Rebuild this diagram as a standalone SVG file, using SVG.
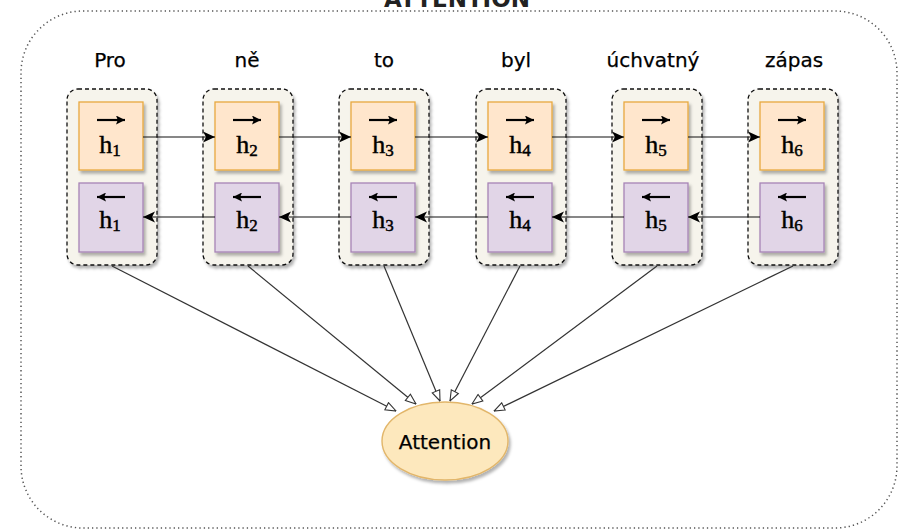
<svg xmlns="http://www.w3.org/2000/svg" width="899" height="531" viewBox="0 0 899 531">
  <style>
    .frame { fill: none; stroke: #555; stroke-width: 1.5; stroke-dasharray: 1.3 3; }
    .title { font-family: "DejaVu Sans", Verdana, sans-serif; font-weight: bold; font-size: 23px; fill: #222; text-anchor: middle; }
    .word { font-family: "DejaVu Sans", Verdana, sans-serif; font-size: 20px; fill: #000; stroke: #000; stroke-width: 0.25; text-anchor: middle; }
    .cell { fill: #f6f4ec; stroke: #111; stroke-width: 1.3; stroke-dasharray: 4 3; }
    .fwd { fill: #ffe6cc; stroke: #e8a93e; stroke-width: 1.3; }
    .bwd { fill: #e1d5e7; stroke: #a784b6; stroke-width: 1.3; }
    .h { font-family: "Liberation Serif", "Times New Roman", serif; font-size: 26px; fill: #000; stroke: #000; stroke-width: 0.45; text-anchor: middle; }
    .sub { font-size: 17px; }
    .vec { stroke: #000; stroke-width: 2.2; fill: none; }
    .link { stroke: #111; stroke-width: 1.2; fill: none; }
    .feed { stroke: #333; stroke-width: 1.2; fill: none; marker-end: url(#open); }
    .att { fill: #fde8bd; stroke: #e2b66a; stroke-width: 1.4; }
    .attText { font-family: "DejaVu Sans", Verdana, sans-serif; font-size: 20px; fill: #000; stroke: #000; stroke-width: 0.25; text-anchor: middle; }
  </style>
  <defs>
    <filter id="shadow" x="-20%" y="-20%" width="140%" height="140%">
      <feDropShadow dx="2" dy="3" stdDeviation="1.5" flood-color="#000" flood-opacity="0.3"/>
    </filter>
    <marker id="solid" viewBox="0 0 10 10" refX="10" refY="5" markerWidth="12" markerHeight="12" markerUnits="userSpaceOnUse" orient="auto">
      <path d="M0,0.5 L10,5 L0,9.5 L2.5,5 Z" fill="#000"/>
    </marker>
    <marker id="tip" viewBox="0 0 10 10" refX="10" refY="5" markerWidth="9" markerHeight="9" markerUnits="userSpaceOnUse" orient="auto">
      <path d="M0,0 L10,5 L0,10 L2,5 Z" fill="#000"/>
    </marker>
    <marker id="open" viewBox="0 0 12 10" refX="11.5" refY="5" markerWidth="12" markerHeight="10" markerUnits="userSpaceOnUse" orient="auto">
      <path d="M1,1 L11.5,5 L1,9 Z" fill="#fff" stroke="#333" stroke-width="1.1"/>
    </marker>
  </defs>

  <!-- outer boundary and heading -->
  <text class="title" x="457" y="7">ATTENTION</text>
  <rect class="frame" x="21" y="11" width="876" height="517" rx="62" ry="62"/>

  <!-- words -->
  <g id="words">
    <text class="word" x="110" y="67">Pro</text>
    <text class="word" x="247" y="67">ně</text>
    <text class="word" x="384" y="67">to</text>
    <text class="word" x="516" y="67">byl</text>
    <text class="word" x="653" y="67">úchvatný</text>
    <text class="word" x="794" y="67">zápas</text>
  </g>

  <!-- step 1 -->
  <g id="step1">
    <rect class="cell" x="67" y="89" width="90" height="176" rx="11" filter="url(#shadow)"/>
    <rect class="fwd" x="79" y="102" width="64" height="68" filter="url(#shadow)"/>
    <rect class="bwd" x="79" y="183" width="64" height="69" filter="url(#shadow)"/>
    <path class="vec" d="M97,120 H125" marker-end="url(#tip)"/>
    <text class="h" x="110" y="153">h<tspan class="sub" dy="3">1</tspan></text>
    <path class="vec" d="M125,197 H97" marker-end="url(#tip)"/>
    <text class="h" x="110" y="228">h<tspan class="sub" dy="3">1</tspan></text>
  </g>

  <!-- step 2 -->
  <g id="step2">
    <rect class="cell" x="203" y="89" width="90" height="176" rx="11" filter="url(#shadow)"/>
    <rect class="fwd" x="215" y="102" width="64" height="68" filter="url(#shadow)"/>
    <rect class="bwd" x="215" y="183" width="64" height="69" filter="url(#shadow)"/>
    <path class="vec" d="M233,120 H261" marker-end="url(#tip)"/>
    <text class="h" x="247" y="153">h<tspan class="sub" dy="3">2</tspan></text>
    <path class="vec" d="M261,197 H233" marker-end="url(#tip)"/>
    <text class="h" x="247" y="228">h<tspan class="sub" dy="3">2</tspan></text>
  </g>

  <!-- step 3 -->
  <g id="step3">
    <rect class="cell" x="339" y="89" width="90" height="176" rx="11" filter="url(#shadow)"/>
    <rect class="fwd" x="351" y="102" width="64" height="68" filter="url(#shadow)"/>
    <rect class="bwd" x="351" y="183" width="64" height="69" filter="url(#shadow)"/>
    <path class="vec" d="M369,120 H397" marker-end="url(#tip)"/>
    <text class="h" x="383" y="153">h<tspan class="sub" dy="3">3</tspan></text>
    <path class="vec" d="M397,197 H369" marker-end="url(#tip)"/>
    <text class="h" x="383" y="228">h<tspan class="sub" dy="3">3</tspan></text>
  </g>

  <!-- step 4 -->
  <g id="step4">
    <rect class="cell" x="476" y="89" width="90" height="176" rx="11" filter="url(#shadow)"/>
    <rect class="fwd" x="488" y="102" width="64" height="68" filter="url(#shadow)"/>
    <rect class="bwd" x="488" y="183" width="64" height="69" filter="url(#shadow)"/>
    <path class="vec" d="M506,120 H534" marker-end="url(#tip)"/>
    <text class="h" x="520" y="153">h<tspan class="sub" dy="3">4</tspan></text>
    <path class="vec" d="M534,197 H506" marker-end="url(#tip)"/>
    <text class="h" x="520" y="228">h<tspan class="sub" dy="3">4</tspan></text>
  </g>

  <!-- step 5 -->
  <g id="step5">
    <rect class="cell" x="612" y="89" width="90" height="176" rx="11" filter="url(#shadow)"/>
    <rect class="fwd" x="624" y="102" width="64" height="68" filter="url(#shadow)"/>
    <rect class="bwd" x="624" y="183" width="64" height="69" filter="url(#shadow)"/>
    <path class="vec" d="M642,120 H670" marker-end="url(#tip)"/>
    <text class="h" x="656" y="153">h<tspan class="sub" dy="3">5</tspan></text>
    <path class="vec" d="M670,197 H642" marker-end="url(#tip)"/>
    <text class="h" x="656" y="228">h<tspan class="sub" dy="3">5</tspan></text>
  </g>

  <!-- step 6 -->
  <g id="step6">
    <rect class="cell" x="748" y="89" width="90" height="176" rx="11" filter="url(#shadow)"/>
    <rect class="fwd" x="760" y="102" width="64" height="68" filter="url(#shadow)"/>
    <rect class="bwd" x="760" y="183" width="64" height="69" filter="url(#shadow)"/>
    <path class="vec" d="M778,120 H806" marker-end="url(#tip)"/>
    <text class="h" x="792" y="153">h<tspan class="sub" dy="3">6</tspan></text>
    <path class="vec" d="M806,197 H778" marker-end="url(#tip)"/>
    <text class="h" x="792" y="228">h<tspan class="sub" dy="3">6</tspan></text>
  </g>

  <!-- attention node -->
  <g id="attention">
    <ellipse class="att" cx="445" cy="441" rx="63" ry="39" filter="url(#shadow)"/>
    <text class="attText" x="445" y="449">Attention</text>
  </g>

  <!-- connectors -->
  <g id="connectors">
    <!-- forward recurrence -->
    <path class="link" d="M143,137 H215" marker-end="url(#solid)"/>
    <path class="link" d="M279,137 H351" marker-end="url(#solid)"/>
    <path class="link" d="M415,137 H488" marker-end="url(#solid)"/>
    <path class="link" d="M552,137 H624" marker-end="url(#solid)"/>
    <path class="link" d="M688,137 H760" marker-end="url(#solid)"/>
    <!-- backward recurrence -->
    <path class="link" d="M215,217 H143" marker-end="url(#solid)"/>
    <path class="link" d="M351,217 H279" marker-end="url(#solid)"/>
    <path class="link" d="M488,217 H415" marker-end="url(#solid)"/>
    <path class="link" d="M624,217 H552" marker-end="url(#solid)"/>
    <path class="link" d="M760,217 H688" marker-end="url(#solid)"/>
    <!-- states feeding attention -->
    <path class="feed" d="M112,266 L396,411"/>
    <path class="feed" d="M248,266 L416,404"/>
    <path class="feed" d="M384,266 L440,401"/>
    <path class="feed" d="M520,266 L450,401"/>
    <path class="feed" d="M657,266 L472,404"/>
    <path class="feed" d="M793,266 L494,411"/>
  </g>
</svg>
